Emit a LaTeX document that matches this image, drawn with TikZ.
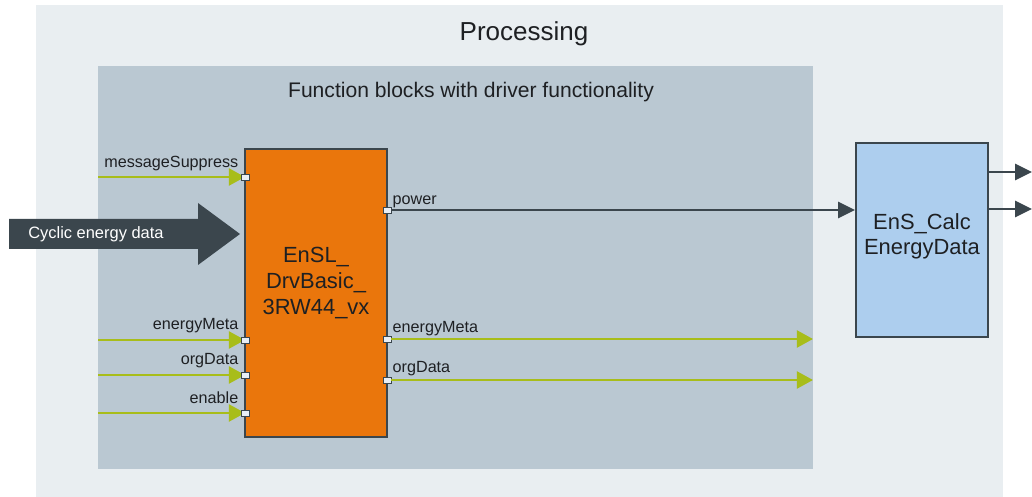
\documentclass[tikz,border=0pt]{standalone}
\usepackage{fontspec}
\setmainfont{Liberation Sans}
\usepackage{xcolor}
\usetikzlibrary{arrows.meta,positioning,calc,fit}
\definecolor{outercolor}{RGB}{233,238,241}
\definecolor{innercolor}{RGB}{186,200,210}
\definecolor{drvcolor}{RGB}{234,118,12}
\definecolor{calccolor}{RGB}{173,206,238}
\definecolor{linecolor}{RGB}{59,70,77}
\definecolor{sigcolor}{RGB}{168,189,26}
\definecolor{portcolor}{RGB}{232,238,245}
\definecolor{textcolor}{RGB}{30,32,35}

\begin{document}
\begin{tikzpicture}[
    x=0.025cm, y=-0.025cm,
    panel/.style={rectangle, inner sep=0pt},
    fbox/.style={rectangle, draw=linecolor, line width=1.4pt, inner sep=0pt},
    port/.style={rectangle, draw=linecolor, fill=portcolor, line width=0.6pt, minimum width=0.2cm, minimum height=0.15cm, inner sep=0pt},
    portlabel/.style={inner sep=0pt, font=\fontsize{11.5}{13}\selectfont, text=textcolor},
    blocktext/.style={align=center, inner sep=0pt, text=textcolor},
    sigarrow/.style={draw=sigcolor, line width=2.1pt, -{Triangle[length=11.5pt, width=12pt]}},
    powarrow/.style={draw=linecolor, line width=1.4pt, -{Triangle[length=12pt, width=11.5pt]}}
]
\useasboundingbox (0,0) rectangle (1032,497);

% ============ Panels ============
\node[panel, fill=outercolor, fit={(36,5) (1003,497)}] (proc) {};
\node[panel, fill=innercolor, fit={(98,66) (813,469)}] (fbpanel) {};
\node[font=\fontsize{18.5}{22}\selectfont, text=textcolor, anchor=base] (proctitle) at (524,41) {Processing};
\node[font=\fontsize{15}{18}\selectfont, text=textcolor, anchor=base] (fbtitle) at (471,98) {Function blocks with driver functionality};

% ============ Blocks ============
\node[fbox, fill=drvcolor, fit={(245,149) (387,437)}] (drv) {};
\node[blocktext, font=\fontsize{15.6}{18.5}\selectfont] (drvname) at (316,283) {EnSL\_\\DrvBasic\_\\3RW44\_vx};
\node[fbox, fill=calccolor, fit={(856,143) (988,337)}] (enscalc) {};
\node[blocktext, font=\fontsize{15.6}{17.8}\selectfont] (calcname) at (922,236) {EnS\_Calc\\EnergyData};

% Cyclic energy data
\fill[linecolor] (9,219) -- (198,219) -- (198,203) -- (240,234) -- (198,265) -- (198,249) -- (9,249) -- cycle;
\node[font=\fontsize{11.7}{13}\selectfont, text=white, anchor=west, inner sep=0pt] (cyclic) at (28,234) {Cyclic energy data};

% ============ Inputs ============
\coordinate (srcmsg) at (98,177);
\coordinate (srcmeta) at (98,340);
\coordinate (srcorg) at (98,375);
\coordinate (srcen) at (98,413);
\draw[sigarrow] (srcmsg) -- (245,177) node (inmsg) [port] {};
\draw[sigarrow] (srcmeta) -- (245,340) node (inmeta) [port] {};
\draw[sigarrow] (srcorg) -- (245,375) node (inorg) [port] {};
\draw[sigarrow] (srcen) -- (245,413) node (inen) [port] {};
\node[portlabel, anchor=base east] (lmsg) at ($(inmsg.west)+(-2,-9)$) {messageSuppress};
\node[portlabel, anchor=base east] (lmeta) at ($(inmeta.west)+(-2,-10)$) {energyMeta};
\node[portlabel, anchor=base east] (lorg) at ($(inorg.west)+(-2,-10)$) {orgData};
\node[portlabel, anchor=base east] (len) at ($(inen.west)+(-2,-10)$) {enable};

% ============ Outputs ============
\node[port] (outpow) at (387,210) {};
\node[port] (outmeta) at (387,339) {};
\node[port] (outorg) at (387,380) {};
\coordinate (dstmeta) at (813,339);
\coordinate (dstorg) at (813,380);
\draw[powarrow] (outpow.east) -- (enscalc.west |- outpow);
\draw[sigarrow] (outmeta.east) -- (dstmeta);
\draw[sigarrow] (outorg.east) -- (dstorg);
\node[portlabel, anchor=base west] (lpow) at ($(outpow.east)+(1,-5)$) {power};
\node[portlabel, anchor=base west] (loutmeta) at ($(outmeta.east)+(1,-6)$) {energyMeta};
\node[portlabel, anchor=base west] (loutorg) at ($(outorg.east)+(1,-7)$) {orgData};

% EnS_Calc outputs
\coordinate (res1) at (1032,172);
\coordinate (res2) at (1032,209);
\draw[powarrow] (enscalc.east |- res1) -- (res1);
\draw[powarrow] (enscalc.east |- res2) -- (res2);

\end{tikzpicture}
\end{document}
